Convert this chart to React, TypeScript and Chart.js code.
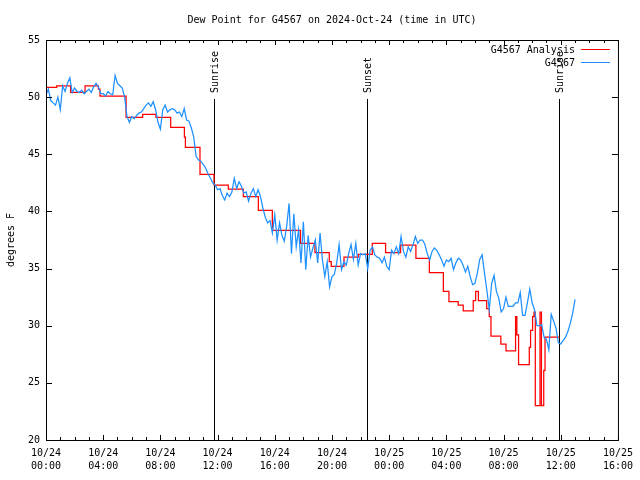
import React, { useEffect, useRef } from 'react';
import { Chart, registerables } from 'chart.js';

Chart.register(...registerables);

const FONT = '"DejaVu Sans Mono", "Liberation Mono", monospace';

const titleText = 'Dew Point for G4567 on 2024-Oct-24 (time in UTC)';
const yAxisTitle = 'degrees F';
const seriesNames = ['G4567 Analysis', 'G4567'];
const seriesColors = ['#ff0000', '#1e90ff'];

const xTickDates = ['10/24', '10/24', '10/24', '10/24', '10/24', '10/24', '10/25', '10/25', '10/25', '10/25', '10/25'];
const xTickTimes = ['00:00', '04:00', '08:00', '12:00', '16:00', '20:00', '00:00', '04:00', '08:00', '12:00', '16:00'];

const sunEventLabels = ['Sunrise', 'Sunset', 'Sunrise'];
const sunEventHours = [11.75, 22.47, 35.9];

// Analysis (hours since 10/24 00:00 UTC, value held until next time)
const redTimes = [
  0, 0.75, 1.72, 2.73, 3.66, 3.78, 5.6, 6.76, 7.69, 8.72, 9.68, 9.75, 10.77, 11.75, 12.75, 13.8,
  14.85, 15.83, 17.8, 18.81, 19.81, 19.95, 20.84, 21.84, 22.82, 23.75, 24.8, 25.87, 26.81,
  27.79, 28.18, 28.83, 29.18, 29.88, 30.05, 30.24, 30.82, 31.0, 31.12, 31.81, 32.17, 32.84,
  32.93, 33.05, 33.8, 33.89, 34.03, 34.13, 34.22, 34.55, 34.65, 34.81, 34.9, 35.9,
];
const redValues = [
  50.86, 50.98, 50.42, 50.98, 50.7, 50.1, 48.23, 48.5, 48.23, 47.36, 46.5, 45.6, 43.25, 42.3, 41.96, 41.3,
  40.1, 38.35, 37.2, 36.4, 35.6, 35.2, 36.0, 36.25, 37.2, 36.4, 37.05, 35.9, 34.65,
  33.0, 32.1, 31.8, 31.3, 32.2, 33.0, 32.2, 31.5, 30.8, 29.1, 28.4, 27.8, 30.8,
  29.2, 26.6, 28.1, 29.6, 30.8, 31.2, 23.0, 31.2, 23.0, 26.1, 29.0, 29.0,
];

// Observations, one value every 10 minutes from 10/24 00:00 UTC
const blueStepMinutes = 10;
const blueValues = [
  50.2, 50.7, 49.7, 49.5, 49.3, 50.0,
  48.9, 51.0, 50.5, 51.2, 51.7, 50.4,
  50.8, 50.5, 50.4, 50.6, 50.3, 50.5,
  50.7, 50.4, 50.9, 51.2, 50.9, 50.3,
  50.3, 50.1, 50.5, 50.3, 50.2, 51.9,
  51.2, 51.0, 50.8, 50.0, 48.3, 47.8,
  48.3, 48.1, 48.4, 48.6, 48.7, 49.0,
  49.3, 49.5, 49.2, 49.6, 48.9, 47.8,
  47.2, 48.9, 49.3, 48.7, 48.9, 49.0,
  48.9, 48.6, 48.7, 48.3, 49.0, 48.0,
  47.9, 47.3, 46.5, 44.8, 44.5, 44.4,
  44.1, 43.8, 43.3, 42.9, 42.5, 42.3,
  41.9, 42.0, 41.4, 41.0, 41.6, 41.3,
  41.7, 42.9, 42.0, 42.6, 42.2, 41.6,
  41.7, 40.9, 41.6, 42.0, 41.3, 41.9,
  41.3, 40.3, 39.5, 39.0, 39.2, 38.1,
  39.7, 37.5, 39.0, 37.9, 37.4, 38.7,
  40.7, 36.3, 39.8, 36.9, 38.4, 35.5,
  39.1, 34.9, 37.9, 36.0, 36.8, 37.5,
  35.5, 38.1, 35.75, 34.3, 35.6, 33.4,
  34.3, 34.5, 35.5, 37.1, 34.9, 35.6,
  35.3, 36.3, 37.1, 35.8, 37.2, 35.3,
  36.3, 36.2, 36.3, 35.0, 36.6, 36.9,
  36.2, 36.0, 35.9, 35.5, 36.0, 35.2,
  34.9, 36.6, 36.3, 36.9, 36.3, 37.8,
  36.5, 36.0, 36.9, 36.5, 37.1, 37.8,
  37.2, 37.5, 37.5, 37.1, 36.3, 35.75,
  36.5, 36.8, 36.6, 36.2, 35.75, 35.2,
  35.75, 35.6, 35.9, 34.9, 35.5, 35.9,
  35.75, 35.3, 34.7, 35.2, 34.3, 33.6,
  33.7, 34.6, 35.8, 36.2, 34.6, 33.1,
  31.4, 33.7, 34.4, 33.0, 32.4, 31.2,
  31.5, 32.5, 31.7, 31.7, 31.7, 32.0,
  32.0, 32.9, 30.9, 30.9, 32.0, 33.2,
  32.0, 31.4, 30.0, 30.0, 30.1, 29.0,
  28.8, 27.9, 31.0, 30.4, 29.8, 28.5,
  28.4, 28.7, 29.0, 29.5, 30.2, 31.1,
  32.3,
];

const xMin = 0;
const xMax = 40;
const xMajorStep = 4;
const yMin = 20;
const yMax = 55;
const yStep = 5;

const decorPlugin = {
  id: 'gnuplotDecor',
  beforeDatasetsDraw(chart: any) {
    const { ctx, chartArea, scales } = chart;
    const xs = scales.x;
    ctx.save();
    ctx.strokeStyle = '#000';
    ctx.lineWidth = 1;
    ctx.fillStyle = '#000';
    ctx.font = `10px ${FONT}`;
    sunEventHours.forEach((h, i) => {
      const px = Math.round(xs.getPixelForValue(h)) + 0.5;
      ctx.beginPath();
      ctx.moveTo(px, chartArea.top + 59);
      ctx.lineTo(px, chartArea.bottom);
      ctx.stroke();
      ctx.save();
      ctx.translate(px + 0.5, chartArea.top + 53);
      ctx.rotate(-Math.PI / 2);
      ctx.textAlign = 'left';
      ctx.textBaseline = 'middle';
      ctx.fillText(sunEventLabels[i], 0, 0);
      ctx.restore();
    });
    ctx.restore();
  },
  afterDatasetsDraw(chart: any) {
    const { ctx, chartArea, scales } = chart;
    const xs = scales.x;
    const ys = scales.y;
    const { left, right, top, bottom } = chartArea;
    ctx.save();
    ctx.strokeStyle = '#000';
    ctx.lineWidth = 1;
    ctx.strokeRect(left + 0.5, top + 0.5, right - left, bottom - top);
    ctx.beginPath();
    for (let h = xMin; h <= xMax; h += 1) {
      const px = Math.round(xs.getPixelForValue(h)) + 0.5;
      const len = h % xMajorStep === 0 ? 5 : 3;
      ctx.moveTo(px, bottom);
      ctx.lineTo(px, bottom - len);
      ctx.moveTo(px, top);
      ctx.lineTo(px, top + len);
    }
    for (let v = yMin; v <= yMax; v += yStep) {
      const py = Math.round(ys.getPixelForValue(v)) + 0.5;
      ctx.moveTo(left, py);
      ctx.lineTo(left + 6, py);
      ctx.moveTo(right, py);
      ctx.lineTo(right - 6, py);
    }
    ctx.stroke();

    ctx.fillStyle = '#000';
    ctx.font = `10px ${FONT}`;
    ctx.textAlign = 'center';
    ctx.textBaseline = 'middle';
    ctx.fillText(titleText, (left + right) / 2, 20);

    ctx.save();
    ctx.translate(11, (top + bottom) / 2);
    ctx.rotate(-Math.PI / 2);
    ctx.fillText(yAxisTitle, 0, 0);
    ctx.restore();

    ctx.textAlign = 'right';
    seriesNames.forEach((name, i) => {
      const y = top + 9.5 + i * 13;
      ctx.fillStyle = '#000';
      ctx.fillText(name, right - 43, y + 1);
      ctx.strokeStyle = seriesColors[i];
      ctx.beginPath();
      ctx.moveTo(right - 37, y);
      ctx.lineTo(right - 8, y);
      ctx.stroke();
    });
    ctx.restore();
  },
};

export default function App() {
  const ref = useRef<HTMLCanvasElement>(null);
  useEffect(() => {
    const redPoints = redTimes.map((t, i) => ({ x: t, y: redValues[i] }));
    const bluePoints = blueValues.map((v, i) => ({ x: (i * blueStepMinutes) / 60, y: v }));
    const chart = new Chart(ref.current as HTMLCanvasElement, {
      type: 'line',
      data: {
        datasets: [
          {
            label: seriesNames[1],
            data: bluePoints,
            borderColor: seriesColors[1],
            borderWidth: 1.25,
            pointRadius: 0,
            fill: false,
            tension: 0,
          },
          {
            label: seriesNames[0],
            data: redPoints,
            borderColor: seriesColors[0],
            borderWidth: 1.25,
            pointRadius: 0,
            fill: false,
            stepped: 'before',
          },
        ],
      },
      options: {
        responsive: false,
        animation: false,
        devicePixelRatio: 1,
        layout: { padding: { top: 40, right: 22, left: 0, bottom: 0 } },
        plugins: { legend: { display: false }, title: { display: false }, tooltip: { enabled: false } },
        scales: {
          x: {
            type: 'linear',
            min: xMin,
            max: xMax,
            afterFit: (s: any) => { s.height = 40; },
            grid: { display: false, drawTicks: false },
            border: { display: false },
            ticks: {
              stepSize: xMajorStep,
              autoSkip: false,
              maxRotation: 0,
              padding: 7,
              color: '#000',
              font: { family: FONT, size: 10, lineHeight: 1.3 },
              callback: (v: any) => {
                const i = Math.round(Number(v) / xMajorStep);
                return [xTickDates[i], xTickTimes[i]];
              },
            },
          },
          y: {
            min: yMin,
            max: yMax,
            afterFit: (s: any) => { s.width = 46; },
            grid: { display: false, drawTicks: false },
            border: { display: false },
            ticks: {
              stepSize: yStep,
              padding: 6,
              color: '#000',
              font: { family: FONT, size: 10 },
            },
          },
        },
      },
      plugins: [decorPlugin],
    } as any);
    return () => chart.destroy();
  }, []);
  return (
    <div style={{ position: 'absolute', left: 0, top: 0, width: 640, height: 480, background: '#fff' }}>
      <canvas ref={ref} width={640} height={480} />
    </div>
  );
}
